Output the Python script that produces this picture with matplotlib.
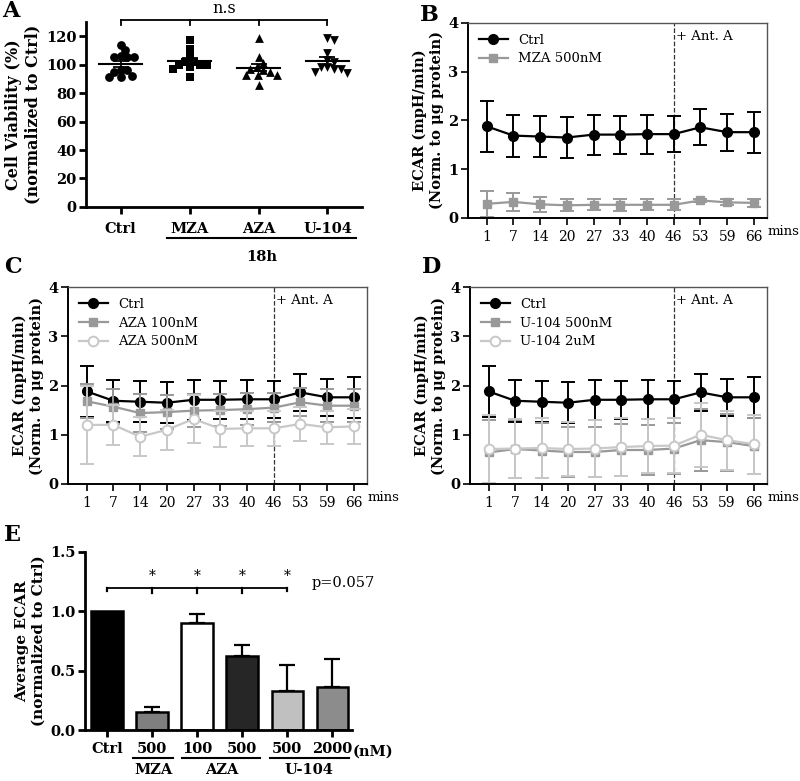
import matplotlib
matplotlib.use("Agg")
import matplotlib.pyplot as plt
import matplotlib.transforms as mtransforms
import numpy as np

plt.rcParams["font.family"] = ["DejaVu Serif"]
plt.rcParams["mathtext.fontset"] = "dejavuserif"

# --- panel A: cell viability (%) ---
A_GROUPS = ["Ctrl", "MZA", "AZA", "U-104"]
A_CTRL = [110, 114, 105, 105, 105, 106, 96, 95, 96, 91, 91, 92]
A_MZA = [117, 111, 106, 102, 100, 100, 97, 98, 91, 102, 100]
A_AZA = [119, 105, 101, 98, 95, 93, 93, 93, 96, 86, 97]
A_U104 = [119, 117, 108, 103, 98, 97, 98, 97, 94, 95, 102]

# --- panels B-D: ECAR time course ---
TIMES = ["1", "7", "14", "20", "27", "33", "40", "46", "53", "59", "66"]
CTRL_M = [1.88, 1.69, 1.67, 1.65, 1.71, 1.71, 1.72, 1.72, 1.86, 1.76, 1.76]
CTRL_E = [0.52, 0.43, 0.42, 0.42, 0.41, 0.39, 0.40, 0.37, 0.37, 0.38, 0.42]
MZA500_M = [0.29, 0.33, 0.28, 0.26, 0.27, 0.27, 0.27, 0.27, 0.36, 0.32, 0.31]
MZA500_E = [0.27, 0.18, 0.16, 0.12, 0.11, 0.12, 0.11, 0.11, 0.03, 0.06, 0.08]
AZA100_M = [1.68, 1.57, 1.44, 1.46, 1.49, 1.50, 1.52, 1.55, 1.66, 1.59, 1.59]
AZA100_E = [0.35, 0.35, 0.38, 0.35, 0.33, 0.33, 0.32, 0.30, 0.28, 0.33, 0.33]
AZA500_M = [1.20, 1.20, 0.96, 1.10, 1.32, 1.12, 1.13, 1.13, 1.22, 1.15, 1.17]
AZA500_E = [0.80, 0.40, 0.40, 0.41, 0.48, 0.36, 0.36, 0.35, 0.34, 0.34, 0.35]
U500_M = [0.64, 0.71, 0.68, 0.65, 0.65, 0.69, 0.69, 0.72, 0.89, 0.85, 0.77]
U500_E = [0.65, 0.58, 0.55, 0.50, 0.50, 0.52, 0.50, 0.52, 0.63, 0.58, 0.57]
U2_M = [0.71, 0.72, 0.73, 0.71, 0.72, 0.75, 0.77, 0.78, 1.00, 0.89, 0.81]
U2_E = [0.70, 0.60, 0.60, 0.55, 0.58, 0.58, 0.55, 0.55, 0.65, 0.60, 0.60]
ANT_A_IDX = 7  # injection after 46 min

# --- panel E: average ECAR ---
E_LABELS = ["Ctrl", "500", "100", "500", "500", "2000"]
E_VALUES = [1.0, 0.15, 0.90, 0.62, 0.33, 0.36]
E_ERR = [0.0, 0.04, 0.08, 0.10, 0.22, 0.24]
E_COLORS = ["#000000", "#7f7f7f", "#ffffff", "#262626", "#c0c0c0", "#8c8c8c"]
E_GROUPS = [("MZA", 0.58, 1.47), ("AZA", 1.67, 3.40), ("U-104", 3.62, 5.36)]

fig = plt.figure(figsize=(8.0, 7.81), dpi=100)

BOLD = dict(fontweight="bold")


def panel_letter(x, y, s):
    fig.text(x / 800, 1 - y / 781, s, fontsize=16, fontweight="bold", va="top", ha="left")


def swarm(vals, xscale, yscale, d=7.0):
    # simple beeswarm: put each point as close to the centre as it fits
    placed, offs = [], np.zeros(len(vals))
    order = np.argsort(vals)[::-1]
    cands = np.arange(0, 60, 0.5)
    cands = np.concatenate([[0], np.ravel(np.column_stack([cands[1:], -cands[1:]]))])
    for k in order:
        y = vals[k] * yscale
        for c in cands:
            if all((c - px) ** 2 + (y - py) ** 2 >= d ** 2 for px, py in placed):
                placed.append((c, y))
                offs[k] = c / xscale
                break
    return offs


# ---------------- A ----------------
axA = fig.add_axes([0.1075, 0.735, 0.345, 0.237])
markers = ["o", "s", "^", "v"]
for i, vals in enumerate([A_CTRL, A_MZA, A_AZA, A_U104]):
    vals = np.array(vals, dtype=float)
    n = len(vals)
    offs = swarm(vals, 69.5, 185 / 130)
    axA.scatter(i + offs, vals, marker=markers[i], color="black", s=40, zorder=3, lw=0)
    m = vals.mean()
    sem = vals.std(ddof=1) / np.sqrt(n)
    axA.plot([i - 0.31, i + 0.31], [m, m], color="black", lw=1.5, zorder=4)
    axA.errorbar(i, m, yerr=sem, color="black", capsize=6, lw=1.3, capthick=1.3, zorder=4)
axA.set_xlim(-0.5, 3.5)
axA.set_ylim(0, 130)
axA.set_yticks([0, 20, 40, 60, 80, 100, 120])
axA.set_xticks(range(4))
axA.set_xticklabels(A_GROUPS, fontsize=10.5, **BOLD)
axA.tick_params(axis="y", labelsize=10.5, width=2, length=5, pad=2)
axA.tick_params(axis="x", width=2, length=5, pad=6)
for t in axA.get_yticklabels():
    t.set_fontweight("bold")
for s in ["top", "right"]:
    axA.spines[s].set_visible(False)
for s in ["left", "bottom"]:
    axA.spines[s].set_linewidth(2)
axA.set_ylabel("Cell Viability (%)\n(normalized to Ctrl)", fontsize=11.5, **BOLD, labelpad=3)
# n.s bracket
axA.plot([0, 3], [131.5, 131.5], color="black", lw=1.3, clip_on=False)
for i in range(4):
    axA.plot([i, i], [131.5, 128], color="black", lw=1.3, clip_on=False)
axA.text(1.5, 139.5, "n.s", ha="center", va="center", fontsize=11.5)
trA = mtransforms.blended_transform_factory(axA.transData, axA.transAxes)
axA.plot([0.68, 3.41], [-0.168, -0.168], color="black", lw=1.5, transform=trA, clip_on=False)
axA.text(2.05, -0.27, "18h", ha="center", va="center", fontsize=10.5, transform=trA, **BOLD)
panel_letter(2, 0, "A")


# ---------------- B, C, D ----------------
def ecar_axes(rect, series, letter_xy, letter):
    ax = fig.add_axes(rect)
    x = np.arange(len(TIMES))
    for lab, m, e, style in series:
        ax.errorbar(x, m, yerr=e, fmt="none", ecolor=style["color"], capsize=5,
                    elinewidth=1.4, capthick=1.4)
        ax.plot(x, m, label=lab, lw=1.6, **style)
    ax.axvline(ANT_A_IDX, color="#333333", ls="--", lw=0.9, zorder=0)
    ax.text(ANT_A_IDX + 0.08, 3.72, "+ Ant. A", fontsize=9.5, va="center")
    ax.set_xlim(-0.7, 10.5)
    ax.set_ylim(0, 4)
    ax.set_yticks([0, 1, 2, 3, 4])
    ax.set_xticks(x)
    ax.set_xticklabels(TIMES, fontsize=10)
    ax.tick_params(axis="y", labelsize=10.5, width=1.2, length=5, pad=2)
    ax.tick_params(axis="x", width=1.2, length=5)
    for t in ax.get_yticklabels():
        t.set_fontweight("bold")
    for s in ax.spines.values():
        s.set_color("#555555")
        s.set_linewidth(1.0)
    ax.spines["left"].set_color("black")
    ax.spines["bottom"].set_color("black")
    ax.spines["left"].set_linewidth(1.4)
    ax.spines["bottom"].set_linewidth(1.4)
    ax.text(1.002, -0.068, "mins", transform=ax.transAxes, fontsize=9.5, ha="left", va="center")
    ax.set_ylabel("ECAR (mpH/min)\n(Norm. to \u03bcg protein)", fontsize=10.5, **BOLD, labelpad=3)
    ax.legend(loc="upper left", frameon=False, fontsize=9.5, handlelength=2.2,
              borderaxespad=0.4, labelspacing=0.45)
    panel_letter(letter_xy[0], letter_xy[1], letter)
    return ax


ctrl_style = dict(color="black", marker="o", ms=7)
sq_style = dict(color="#999999", marker="s", ms=6)
open_style = dict(color="#c8c8c8", marker="o", ms=7, mfc="white", mew=1.4)

ecar_axes([0.585, 0.7209, 0.374, 0.2497],
          [("Ctrl", CTRL_M, CTRL_E, ctrl_style),
           ("MZA 500nM", MZA500_M, MZA500_E, sq_style)],
          (420, 4), "B")
ecar_axes([0.085, 0.3803, 0.374, 0.2522],
          [("Ctrl", CTRL_M, CTRL_E, ctrl_style),
           ("AZA 100nM", AZA100_M, AZA100_E, sq_style),
           ("AZA 500nM", AZA500_M, AZA500_E, open_style)],
          (4, 256), "C")
ecar_axes([0.5875, 0.3803, 0.371, 0.2522],
          [("Ctrl", CTRL_M, CTRL_E, ctrl_style),
           ("U-104 500nM", U500_M, U500_E, sq_style),
           ("U-104 2uM", U2_M, U2_E, open_style)],
          (422, 256), "D")

# ---------------- E ----------------
axE = fig.add_axes([0.10625, 0.0653, 0.334, 0.228])
xe = np.arange(len(E_LABELS))
axE.bar(xe, E_VALUES, width=0.7, color=E_COLORS, edgecolor="black", linewidth=1.8, zorder=2)
for xi, v, e in zip(xe, E_VALUES, E_ERR):
    if e > 0:
        axE.errorbar(xi, v, yerr=[[0], [e]], color="black", capsize=6, lw=1.6,
                     capthick=1.6, zorder=1)
axE.set_xlim(-0.49, 5.44)
axE.set_ylim(0, 1.5)
axE.set_yticks([0.0, 0.5, 1.0, 1.5])
axE.set_yticklabels(["0.0", "0.5", "1.0", "1.5"])
axE.set_xticks(xe)
axE.set_xticklabels(E_LABELS, fontsize=10.5, **BOLD)
axE.tick_params(axis="y", labelsize=10.5, width=2, length=5, pad=2)
axE.tick_params(axis="x", width=2, length=5)
for t in axE.get_yticklabels():
    t.set_fontweight("bold")
for s in ["top", "right"]:
    axE.spines[s].set_visible(False)
for s in ["left", "bottom"]:
    axE.spines[s].set_linewidth(2)
axE.set_ylabel("Average ECAR\n(normalized to Ctrl)", fontsize=11, **BOLD, labelpad=3)
# significance bracket
axE.plot([0, 4], [1.2, 1.2], color="black", lw=1.3)
for i in range(5):
    axE.plot([i, i], [1.2, 1.15 if i in (1, 2, 3) else 1.17], color="black", lw=1.6)
for i in range(1, 5):
    axE.text(i, 1.30, "*", ha="center", va="center", fontsize=10)
axE.text(4.55, 1.24, "p=0.057", fontsize=10.5, ha="left", va="center")
trE = mtransforms.blended_transform_factory(axE.transData, axE.transAxes)
axE.text(5.9, -0.085, "(nM)", fontsize=10.5, ha="center", va="top", transform=trE, **BOLD)
for name, x0, x1 in E_GROUPS:
    axE.plot([x0, x1], [-0.157, -0.157], color="black", lw=1.5, transform=trE, clip_on=False)
    axE.text((x0 + x1) / 2, -0.185, name, ha="center", va="top", fontsize=10.5,
             transform=trE, **BOLD)
panel_letter(4, 524, "E")

fig.savefig("out.png", dpi=100)
